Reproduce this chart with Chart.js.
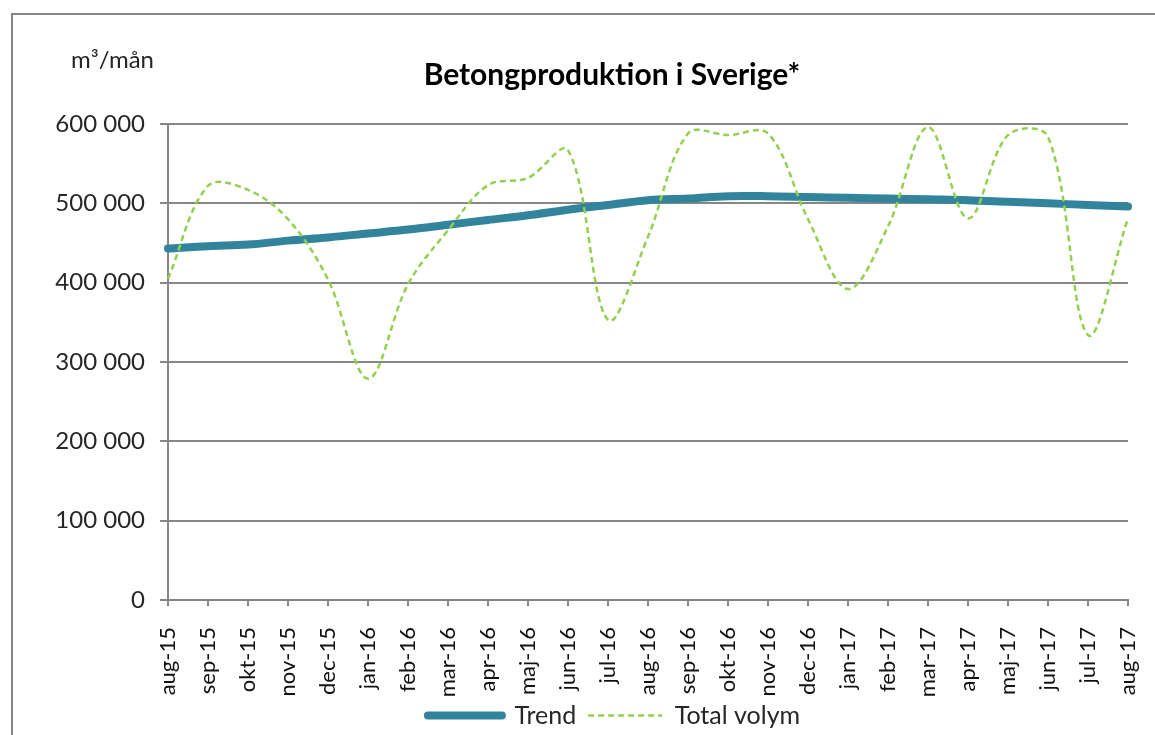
<!DOCTYPE html>
<html>
<head>
<meta charset="utf-8">
<script src="https://cdn.jsdelivr.net/npm/chart.js@4/dist/chart.umd.min.js"></script>
<style>
  html, body { margin: 0; padding: 0; background: #fff; }
  #wrap { width: 1155px; height: 735px; }
</style>
</head>
<body>
<div id="wrap"><canvas id="betongChart" width="1155" height="735"></canvas></div>
<script>
const chartTitle = 'Betongproduktion i Sverige*';
const unitLabel = 'm³/mån';

const months = ['aug-15', 'sep-15', 'okt-15', 'nov-15', 'dec-15', 'jan-16', 'feb-16', 'mar-16',
    'apr-16', 'maj-16', 'jun-16', 'jul-16', 'aug-16', 'sep-16', 'okt-16', 'nov-16', 'dec-16',
    'jan-17', 'feb-17', 'mar-17', 'apr-17', 'maj-17', 'jun-17', 'jul-17', 'aug-17'];

const trend = [443000, 446000, 448000, 453000, 457000, 462000, 467000, 473000, 479000,
    485000, 492000, 498000, 504000, 506000, 509000, 509000, 508000, 507000, 506000,
    505000, 504000, 502000, 500000, 498000, 496000];

const totalVolym = [405000, 522000, 517000, 480000, 404000, 279000, 398000, 466000, 523000,
    532000, 567000, 353000, 458000, 588000, 586000, 588000, 480000, 392000, 471000,
    596000, 481000, 586000, 584000, 334000, 481000];

const yTicks = [0, 100000, 200000, 300000, 400000, 500000, 600000];

const gridGrey = '#868686';
const fontName = 'Lato, "Open Sans", sans-serif';

function spaced(v) {
    return String(v).replace(/\B(?=(\d{3})+(?!\d))/g, ' ');
}

// frame, title and unit text, legend nudge
const decorations = {
    id: 'decorations',
    afterLayout(chart) {
        const lg = chart.legend;
        lg.left += 50;
        lg.right += 50;
        lg.top += 3;
        lg.bottom += 3;
        // let the rotated month labels run past the scale box (label clip area)
        chart.scales.x.bottom += 12;
    },
    beforeDraw(chart) {
        const ctx = chart.ctx;
        ctx.save();
        ctx.strokeStyle = gridGrey;
        ctx.lineWidth = 2;
        ctx.beginPath();
        ctx.moveTo(12, 735);
        ctx.lineTo(12, 14);
        ctx.lineTo(1155, 14);
        ctx.stroke();
        ctx.restore();
    },
    afterDraw(chart) {
        const ctx = chart.ctx;
        ctx.save();
        ctx.fillStyle = '#000';
        ctx.textAlign = 'center';
        ctx.textBaseline = 'alphabetic';
        ctx.font = 'bold 30px ' + fontName;
        ctx.fillText(chartTitle, 612, 85);
        ctx.fillStyle = '#262626';
        ctx.textAlign = 'left';
        ctx.font = '24px ' + fontName;
        ctx.fillText(unitLabel, 71, 68);
        ctx.restore();
    }
};

document.addEventListener('DOMContentLoaded', () => {
    const ctxt = document.getElementById('betongChart').getContext('2d');
    new Chart(ctxt, {
        type: 'line',
        data: {
            labels: months,
            datasets: [{
                label: 'Total volym',
                data: totalVolym,
                borderColor: '#92D050',
                backgroundColor: '#92D050',
                borderWidth: 2.5,
                borderDash: [6, 4],
                pointRadius: 0,
                tension: 0.35
            }, {
                label: 'Trend',
                data: trend,
                borderColor: '#31849B',
                backgroundColor: '#31849B',
                borderWidth: 8,
                borderCapStyle: 'round',
                pointRadius: 0,
                tension: 0.35
            }]
        },
        options: {
            responsive: false,
            animation: false,
            layout: {
                padding: { top: 124, right: 27, bottom: 0, left: 0 }
            },
            scales: {
                x: {
                    offset: false,
                    afterFit: (scale) => {
                        scale.height = 88;
                        scale.paddingLeft = 0;
                        scale.paddingRight = 0;
                    },
                    grid: {
                        drawOnChartArea: false,
                        color: gridGrey,
                        lineWidth: 2,
                        tickLength: 6
                    },
                    border: { color: gridGrey, width: 2 },
                    ticks: {
                        autoSkip: false,
                        minRotation: 90,
                        maxRotation: 90,
                        padding: 21,
                        color: '#111',
                        font: { family: fontName, size: 22 }
                    }
                },
                y: {
                    min: 0,
                    max: 600000,
                    afterFit: (scale) => { scale.width = 168; },
                    afterBuildTicks: (scale) => {
                        scale.ticks = yTicks.map(v => ({ value: v }));
                    },
                    grid: {
                        color: gridGrey,
                        lineWidth: 2,
                        tickLength: 8
                    },
                    border: { color: gridGrey, width: 2 },
                    ticks: {
                        padding: 15,
                        color: '#262626',
                        font: { family: fontName, size: 24 },
                        callback: (v) => spaced(v)
                    }
                }
            },
            plugins: {
                legend: {
                    position: 'bottom',
                    labels: {
                        usePointStyle: true,
                        pointStyle: 'line',
                        pointStyleWidth: 74,
                        padding: 12,
                        color: '#262626',
                        font: { family: fontName, size: 25 },
                        sort: (a, b) => b.datasetIndex - a.datasetIndex,
                        generateLabels: (chart) =>
                            Chart.defaults.plugins.legend.labels.generateLabels(chart).map(item => {
                                const ds = chart.data.datasets[item.datasetIndex];
                                item.lineDash = ds.borderDash || [];
                                item.lineWidth = ds.borderWidth;
                                item.lineCap = ds.borderCapStyle || 'butt';
                                return item;
                            })
                    }
                },
                tooltip: { enabled: false }
            }
        },
        plugins: [decorations]
    });
});
</script>
</body>
</html>
